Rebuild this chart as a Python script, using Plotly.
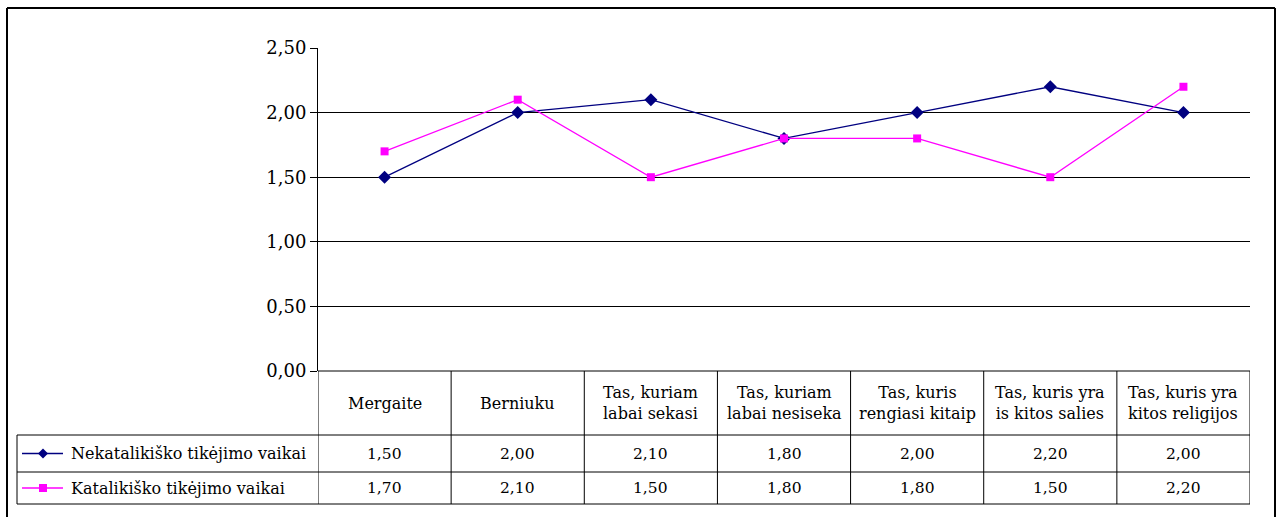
import plotly.graph_objects as go

categories = ["Mergaite", "Berniuku", "Tas, kuriam<br>labai sekasi", "Tas, kuriam<br>labai nesiseka",
              "Tas, kuris<br>rengiasi kitaip", "Tas, kuris yra<br>is kitos salies", "Tas, kuris yra<br>kitos religijos"]
series_names = ["Nekatalikiško tikėjimo vaikai", "Katalikiško tikėjimo vaikai"]
nekatalikisko = [1.50, 2.00, 2.10, 1.80, 2.00, 2.20, 2.00]
katalikisko = [1.70, 2.10, 1.50, 1.80, 1.80, 1.50, 2.20]
y_ticks = [0.0, 0.5, 1.0, 1.5, 2.0, 2.5]

W, H = 1282, 517
FONT = "DejaVu Serif"
NAVY = "#000080"
MAG = "#FF00FF"

def X(px):
    return px / W

def Y(py):
    return 1 - py / H

xs = list(range(len(categories)))

fig = go.Figure()
fig.add_trace(go.Scatter(x=xs, y=nekatalikisko, mode="lines+markers", name=series_names[0],
                         line=dict(color=NAVY, width=1.3),
                         marker=dict(symbol="diamond", size=10, color=NAVY), cliponaxis=False))
fig.add_trace(go.Scatter(x=xs, y=katalikisko, mode="lines+markers", name=series_names[1],
                         line=dict(color=MAG, width=1.3),
                         marker=dict(symbol="square", size=8, color=MAG), cliponaxis=False))

shapes = []
def line(x0, y0, x1, y1, xref="paper", w=1, color="black"):
    shapes.append(dict(type="line", xref=xref, yref="paper", x0=x0, y0=y0, x1=x1, y1=y1,
                       line=dict(color=color, width=w), layer="above"))

# outer frame
line(X(7), Y(8), X(7), Y(520), w=2)
line(X(7), Y(8), X(1275), Y(8), w=2)
line(X(1275), Y(8), X(1275), Y(520), w=2)

# data table grid
n = len(categories)
for i in range(n + 1):
    line(i - 0.5, Y(371), i - 0.5, Y(504), xref="x")
for py in (435, 472, 504):
    line(X(17), Y(py), X(1250), Y(py))
line(X(17), Y(435), X(17), Y(504))
line(X(318), Y(371), X(1250), Y(371))

annotations = []
for i, c in enumerate(categories):
    annotations.append(dict(x=i, y=Y(403), xref="x", yref="paper", text=c, showarrow=False,
                            font=dict(family=FONT, size=16, color="black"),
                            xanchor="center", yanchor="middle"))

rows = [(nekatalikisko, NAVY, "diamond", 453.5), (katalikisko, MAG, "square", 488)]
for (vals, col, sym, cy), name in zip(rows, series_names):
    for i, v in enumerate(vals):
        annotations.append(dict(x=i, y=Y(cy), xref="x", yref="paper",
                                text=f"{v:.2f}".replace(".", ","), showarrow=False,
                                font=dict(family=FONT, size=15.5, color="black"),
                                xanchor="center", yanchor="middle"))
    annotations.append(dict(x=X(69), y=Y(cy), xref="paper", yref="paper", text=name, showarrow=False,
                            font=dict(family=FONT, size=16, color="black"),
                            xanchor="left", yanchor="middle"))
    line(X(22), Y(cy), X(63), Y(cy), w=1.3, color=col)
    if sym == "diamond":
        d = 5
        path = (f"M {X(43)},{Y(cy - d)} L {X(43 + d)},{Y(cy)} L {X(43)},{Y(cy + d)} "
                f"L {X(43 - d)},{Y(cy)} Z")
        shapes.append(dict(type="path", xref="paper", yref="paper", path=path,
                           fillcolor=col, line=dict(color=col, width=0), layer="above"))
    else:
        s = 4
        shapes.append(dict(type="rect", xref="paper", yref="paper", x0=X(43 - s), y0=Y(cy - s),
                           x1=X(43 + s), y1=Y(cy + s), fillcolor=col,
                           line=dict(color=col, width=0), layer="above"))

fig.update_layout(
    width=W, height=H, margin=dict(l=0, r=0, t=0, b=0, pad=0, autoexpand=False),
    paper_bgcolor="white", plot_bgcolor="white", showlegend=False,
    separators=",.",
    font=dict(family=FONT),
    shapes=shapes, annotations=annotations,
    xaxis=dict(domain=[X(318), X(1250)], range=[-0.5, n - 0.5], showticklabels=False,
               showgrid=False, zeroline=False, showline=False, ticks="", automargin=False),
    yaxis=dict(domain=[Y(371), Y(48)], range=[0, 2.5], tickvals=y_ticks, tickformat=".2f",
               showgrid=True, gridcolor="black", gridwidth=1, zeroline=False,
               showline=True, linecolor="black", linewidth=1, automargin=False,
               ticks="outside", ticklen=7, tickcolor="black", tickwidth=1,
               tickfont=dict(family=FONT, size=18, color="black")),
)

fig.write_html("out.html", config={"displayModeBar": False},
               post_script="document.body.style.margin='0';document.body.style.overflow='hidden';")
